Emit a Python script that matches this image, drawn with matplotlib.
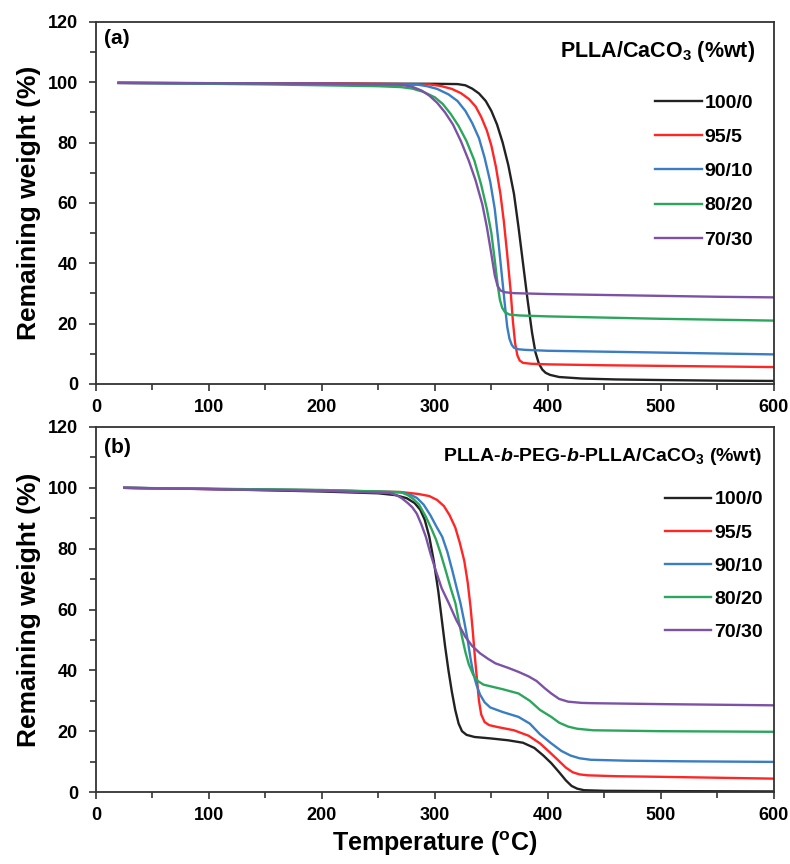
import matplotlib
matplotlib.use("Agg")
import matplotlib.pyplot as plt
from matplotlib.ticker import MultipleLocator

# TGA curves: temperature (C) vs remaining weight (%)
labels = ["100/0", "95/5", "90/10", "80/20", "70/30"]
colors = ["#222222", "#ff2626", "#3a7dc2", "#2ca65c", "#7c52a6"]

# (a) PLLA/CaCO3
a_T_100 = [20, 100, 200, 300, 320, 327, 333, 339, 345, 350, 355, 360, 365, 370, 374, 378, 382, 386, 389, 392, 395, 398, 402, 410, 430, 460, 500, 550, 600]
a_w_100 = [99.8, 99.7, 99.6, 99.5, 99.4, 99.0, 97.9, 96.3, 93.8, 90.5, 86, 80, 72.5, 63, 52, 40, 28, 17, 10.5, 6.8, 4.8, 3.7, 3.0, 2.3, 1.8, 1.5, 1.3, 1.1, 1.0]
a_T_95 = [20, 200, 295, 305, 315, 323, 330, 336, 341, 346, 350, 354, 358, 361, 364, 367, 369, 371, 373, 375, 378, 385, 400, 450, 500, 550, 600]
a_w_95 = [99.8, 99.6, 99.3, 98.8, 97.8, 96.4, 94.5, 92, 88.5, 84, 79, 72, 63, 54, 43, 31, 21, 13.5, 9.5, 7.8, 7.0, 6.7, 6.5, 6.2, 6.0, 5.8, 5.6]
a_T_90 = [20, 200, 285, 293, 302, 312, 320, 327, 333, 339, 344, 349, 353, 356, 359, 362, 364, 366, 368, 370, 374, 380, 400, 450, 500, 550, 600]
a_w_90 = [99.8, 99.5, 99.2, 98.7, 97.8, 96, 93.8, 90.5, 86.5, 81.5, 75, 67, 58, 48, 37, 26, 19, 15, 13, 12, 11.5, 11.3, 11.0, 10.7, 10.4, 10.1, 9.8]
a_T_80 = [20, 150, 250, 270, 280, 290, 300, 307, 314, 321, 328, 335, 341, 346, 350, 353, 355.5, 357.5, 359.5, 362, 366, 375, 400, 450, 500, 550, 600]
a_w_80 = [99.8, 99.3, 98.7, 98.4, 97.9, 96.8, 95, 92.8, 89.5, 85.5, 80.5, 74, 66, 58, 50, 41, 33, 28, 25.3, 23.8, 23, 22.7, 22.4, 22.0, 21.6, 21.3, 21.0]
a_T_70 = [20, 200, 270, 280, 288, 295, 302, 309, 316, 323, 330, 336, 342, 346, 350, 353, 355.5, 358, 362, 370, 400, 450, 500, 550, 600]
a_w_70 = [99.8, 99.5, 99.2, 98.5, 97.3, 95.6, 93.2, 90, 86, 80.5, 74, 67.5, 59.5, 52, 43, 36, 32.5, 31, 30.4, 30.1, 29.8, 29.5, 29.2, 28.9, 28.7]

# (b) PLLA-b-PEG-b-PLLA/CaCO3
b_T_100 = [25, 100, 200, 250, 265, 275, 282, 287, 291, 295, 299, 303, 306, 309, 312, 315, 318, 321, 324, 328, 335, 350, 365, 378, 388, 396, 403, 410, 416, 421, 426, 432, 450, 500, 600]
b_w_100 = [100, 99.6, 98.8, 98.2, 97.6, 96.6, 95, 92.8, 89.5, 84, 76, 66, 57, 48, 40, 33, 27, 22.5, 20, 18.8, 18.1, 17.6, 17.0, 16.2, 14.5, 12, 9.5, 6.5, 3.8, 2.0, 1.1, 0.6, 0.4, 0.3, 0.2]
b_T_95 = [25, 100, 200, 270, 285, 295, 302, 308, 313, 318, 322, 326, 329, 331.5, 333.5, 335.5, 337.5, 339, 341, 344, 348, 355, 370, 383, 393, 401, 409, 416, 422, 428, 435, 460, 500, 550, 600]
b_w_95 = [100, 99.6, 99.2, 98.6, 98, 97.3, 96, 94, 91, 87, 82, 76, 69, 61, 53, 44, 36, 30, 25.5, 23, 22, 21.4, 20.3, 18.5, 16, 13.3, 10.5, 8, 6.5, 5.8, 5.5, 5.2, 5.0, 4.7, 4.4]
b_T_90 = [25, 200, 270, 278, 284, 290, 296, 301, 306.5, 311, 315.3, 319, 322.7, 326, 329, 331.5, 334, 337, 340, 344, 349, 360, 374, 384, 393, 403, 412, 420, 428, 438, 470, 520, 600]
b_w_90 = [100, 99.2, 98.5, 97.8, 96.7, 94.5, 91, 87.5, 83.9, 79, 73, 67.5, 62, 56, 50, 44, 39, 35, 32, 29.5, 27.8, 26.3, 24.7, 22.5, 19, 16, 13.5, 12, 11.1, 10.6, 10.3, 10.1, 9.9]
b_T_80 = [25, 200, 270, 276, 281, 286, 292, 297, 301, 305, 309.4, 314, 318.2, 321, 324, 327, 330, 334, 338, 343, 360, 374, 384, 393, 403, 410, 418, 426, 440, 500, 600]
b_w_80 = [100, 99.3, 98.6, 97.6, 96.3, 94.5, 90.5, 86.5, 83, 78.5, 73, 67, 62, 56.5, 51, 46, 42, 38.5, 36.5, 35.3, 33.8, 32.4, 30, 27, 24.7, 22.8, 21.5, 20.8, 20.3, 20.0, 19.8]
b_T_70 = [25, 200, 260, 266, 271, 276, 280, 284, 288, 292, 296, 300.6, 306, 312.4, 319, 327, 333, 340, 347, 353.6, 365, 374, 383, 390, 397, 403, 410, 418, 430, 440, 500, 600]
b_w_70 = [100, 99.0, 98.3, 97.6, 96.5, 95, 93.6, 91.5, 88, 83.9, 78.5, 73, 67, 62, 56.5, 51, 48, 45.6, 43.8, 42.3, 40.8, 39.5, 38, 36.5, 34.2, 32.4, 30.6, 29.7, 29.3, 29.2, 28.9, 28.5]

panel_a = [(a_T_100, a_w_100), (a_T_95, a_w_95), (a_T_90, a_w_90), (a_T_80, a_w_80), (a_T_70, a_w_70)]
panel_b = [(b_T_100, b_w_100), (b_T_95, b_w_95), (b_T_90, b_w_90), (b_T_80, b_w_80), (b_T_70, b_w_70)]

plt.rcParams["font.family"] = ["Liberation Sans", "DejaVu Sans"]
plt.rcParams["font.weight"] = "bold"
plt.rcParams["mathtext.fontset"] = "custom"
plt.rcParams["mathtext.rm"] = "Liberation Sans:bold"
plt.rcParams["mathtext.it"] = "Liberation Sans:bold:italic"
plt.rcParams["mathtext.bf"] = "Liberation Sans:bold"

fig = plt.figure(figsize=(7.9, 8.64), dpi=100)
ax1 = fig.add_axes([0.1215, 0.5556, 0.858, 0.419])
ax2 = fig.add_axes([0.1215, 0.0833, 0.858, 0.4225])


def style_axis(ax):
    ax.set_xlim(0, 600)
    ax.set_ylim(0, 120)
    ax.xaxis.set_major_locator(MultipleLocator(100))
    ax.xaxis.set_minor_locator(MultipleLocator(50))
    ax.yaxis.set_major_locator(MultipleLocator(20))
    ax.yaxis.set_minor_locator(MultipleLocator(10))
    ax.tick_params(which="major", direction="out", length=5, width=1.2, color="#333333", labelsize=13)
    ax.tick_params(which="minor", direction="out", length=4, width=1.2, color="#333333")
    ax.tick_params(axis="y", which="major", pad=8)
    ax.tick_params(axis="x", which="major", pad=6)
    for sp in ax.spines.values():
        sp.set_color("#333333")
        sp.set_linewidth(1.3)
    ax.set_ylabel("Remaining weight (%)", fontsize=19, fontweight="bold", labelpad=5)


for ax, data in [(ax1, panel_a), (ax2, panel_b)]:
    for (T, w), lab, c in zip(data, labels, colors):
        ax.plot(T, w, color=c, lw=1.7, label=lab)
    style_axis(ax)

ax2.set_xlabel("Temperature ($\\mathregular{^o}$C)", fontsize=18, fontweight="bold", labelpad=4)

ax1.text(0.012, 0.955, "(a)", transform=ax1.transAxes, fontsize=15, fontweight="bold", va="center")
ax2.text(0.012, 0.945, "(b)", transform=ax2.transAxes, fontsize=15, fontweight="bold", va="center")

ax1.text(0.972, 0.917, "PLLA/CaCO$_3$ (%wt)", transform=ax1.transAxes,
         fontsize=15.5, fontweight="bold", ha="right", va="center")
ax2.text(0.982, 0.918, "PLLA-$\\mathit{b}$-PEG-$\\mathit{b}$-PLLA/CaCO$_3$ (%wt)", transform=ax2.transAxes,
         fontsize=14, fontweight="bold", ha="right", va="center")

leg_prop = {"weight": "bold", "size": 14}
ax1.legend(loc="upper left", bbox_to_anchor=(0.8245, 0.80), frameon=False, prop=leg_prop,
           handlelength=2.4, handletextpad=0.15, labelspacing=0.85, borderpad=0, borderaxespad=0)
ax2.legend(loc="upper left", bbox_to_anchor=(0.839, 0.825), frameon=False, prop=leg_prop,
           handlelength=2.4, handletextpad=0.15, labelspacing=0.8, borderpad=0, borderaxespad=0)

fig.savefig("out.png", dpi=100)
